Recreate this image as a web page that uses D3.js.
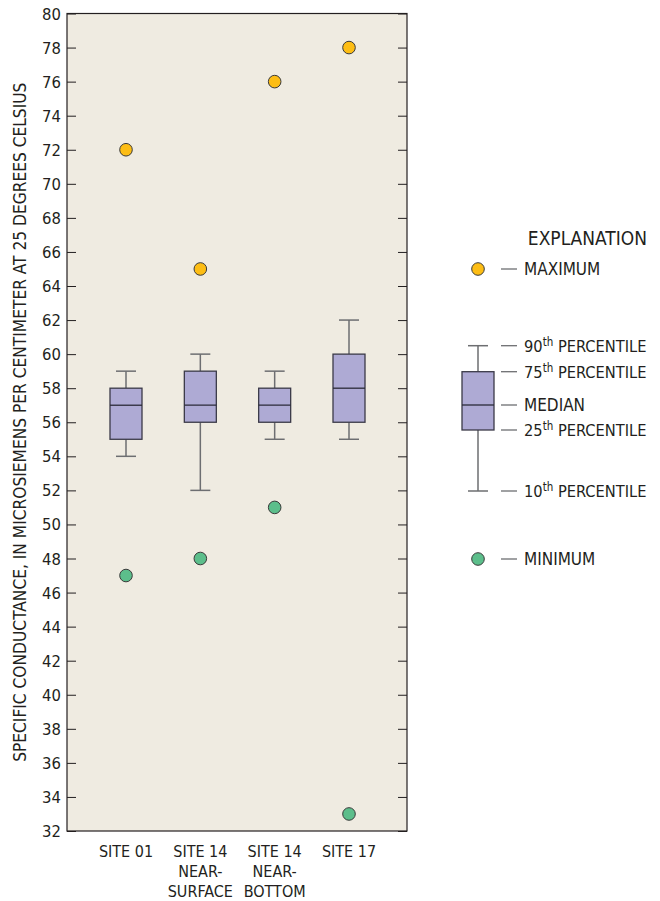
<!DOCTYPE html>
<html><head><meta charset="utf-8">
<script src="https://cdn.jsdelivr.net/npm/d3@7"></script>
<style>
body{margin:0;background:#fff;}
text{font-family:"DejaVu Sans Condensed","Liberation Sans Narrow",sans-serif;fill:#231f20;}
</style></head><body>
<svg id="c" width="660" height="901"></svg>
<script>
const categories = [["SITE 01"],["SITE 14","NEAR-","SURFACE"],["SITE 14","NEAR-","BOTTOM"],["SITE 17"]];
const p10 = [54,52,55,55];
const p25 = [55,56,56,56];
const median = [57,57,57,58];
const p75 = [58,59,58,60];
const p90 = [59,60,59,62];
const maximum = [72,65,76,78];
const minimum = [47,48,51,33];
const yTicks = d3.range(32,81,2);
const legendLabels = ["MAXIMUM","90","75","MEDIAN","25","10","MINIMUM"];

const svg = d3.select("#c");
const L=67, R=407, T=13.5, B=831;
const y = d3.scaleLinear().domain([32,80]).range([B,T]);
const x = d3.scalePoint().domain(d3.range(4)).range([126,349]);

const colBg="#efebe1", colBox="#aeaad4", colMax="#fdbd14", colMin="#5cbe8b", colLine="#231f20", colW="#6d6e71";

svg.append("rect").attr("x",L).attr("y",T).attr("width",R-L).attr("height",B-T).attr("fill",colBg);

// axes
const ax = svg.append("g").attr("transform",`translate(${L},0)`)
  .call(d3.axisRight(y).tickValues(yTicks).tickSize(9).tickFormat(""));
ax.select(".domain").remove();
ax.selectAll("line").attr("stroke",colLine).attr("stroke-width",1);
const ax2 = svg.append("g").attr("transform",`translate(${R},0)`)
  .call(d3.axisLeft(y).tickValues(yTicks).tickSize(9).tickFormat(""));
ax2.select(".domain").remove();
ax2.selectAll("line").attr("stroke",colLine).attr("stroke-width",1);
svg.selectAll(".ylab").data(yTicks).enter().append("text")
  .attr("x",61).attr("y",d=>y(d)+6).attr("text-anchor","end").attr("font-size",16.5).text(d=>d);

svg.append("rect").attr("x",L).attr("y",T).attr("width",R-L).attr("height",B-T)
  .attr("fill","none").attr("stroke",colLine).attr("stroke-width",1.2);

// boxes
const bw=32, cw=20;
function drawBox(g, cx, v10, v25, vm, v75, v90, yy){
  g.append("line").attr("x1",cx).attr("x2",cx).attr("y1",yy(v90)).attr("y2",yy(v75)).attr("stroke",colW).attr("stroke-width",1.5);
  g.append("line").attr("x1",cx).attr("x2",cx).attr("y1",yy(v25)).attr("y2",yy(v10)).attr("stroke",colW).attr("stroke-width",1.5);
  g.append("line").attr("x1",cx-cw/2).attr("x2",cx+cw/2).attr("y1",yy(v90)).attr("y2",yy(v90)).attr("stroke",colW).attr("stroke-width",1.5);
  g.append("line").attr("x1",cx-cw/2).attr("x2",cx+cw/2).attr("y1",yy(v10)).attr("y2",yy(v10)).attr("stroke",colW).attr("stroke-width",1.5);
  g.append("rect").attr("x",cx-bw/2).attr("y",yy(v75)).attr("width",bw).attr("height",yy(v25)-yy(v75))
    .attr("fill",colBox).attr("stroke","#3b3a48").attr("stroke-width",1.3);
  g.append("line").attr("x1",cx-bw/2).attr("x2",cx+bw/2).attr("y1",yy(vm)).attr("y2",yy(vm)).attr("stroke","#2b2a38").attr("stroke-width",1.3);
}
const gb = svg.append("g");
categories.forEach((c,i)=>{
  drawBox(gb, x(i), p10[i], p25[i], median[i], p75[i], p90[i], y);
});
gb.selectAll(".mx").data(maximum).enter().append("circle")
  .attr("cx",(d,i)=>x(i)).attr("cy",d=>y(d)).attr("r",6.3).attr("fill",colMax).attr("stroke","#3a3a3a").attr("stroke-width",1);
gb.selectAll(".mn").data(minimum).enter().append("circle")
  .attr("cx",(d,i)=>x(i)).attr("cy",d=>y(d)).attr("r",6.3).attr("fill",colMin).attr("stroke","#3a3a3a").attr("stroke-width",1);

// category labels
categories.forEach((c,i)=>{
  const t = svg.append("text").attr("text-anchor","middle").attr("font-size",16);
  c.forEach((s,j)=>t.append("tspan").attr("x",x(i)).attr("y",857+j*20).text(s));
});

// y title
svg.append("text").attr("transform",`translate(26,${(T+B)/2}) rotate(-90)`).attr("text-anchor","middle")
  .attr("font-size",17.2).text("SPECIFIC CONDUCTANCE, IN MICROSIEMENS PER CENTIMETER AT 25 DEGREES CELSIUS");

// legend
const lg = svg.append("g");
lg.append("text").attr("x",647).attr("y",245).attr("text-anchor","end").attr("font-size",19).text("EXPLANATION");
const ly = d3.scaleLinear().domain([0,1]).range([491,345.7]);
const lv = {p10:0, p25:(491-430)/(491-345.7), pm:(491-405)/(491-345.7), p75:(491-371.7)/(491-345.7), p90:1};
drawBox(lg, 478, lv.p10, lv.p25, lv.pm, lv.p75, lv.p90, ly);
lg.append("circle").attr("cx",478).attr("cy",269).attr("r",6.3).attr("fill",colMax).attr("stroke","#3a3a3a");
lg.append("circle").attr("cx",478).attr("cy",559).attr("r",6.3).attr("fill",colMin).attr("stroke","#3a3a3a");
const items = [
  {y:269, lab:legendLabels[0], sup:false},
  {y:ly(lv.p90), lab:legendLabels[1], sup:true},
  {y:ly(lv.p75), lab:legendLabels[2], sup:true},
  {y:ly(lv.pm), lab:legendLabels[3], sup:false},
  {y:ly(lv.p25), lab:legendLabels[4], sup:true},
  {y:ly(lv.p10), lab:legendLabels[5], sup:true},
  {y:559, lab:legendLabels[6], sup:false}
];
items.forEach(it=>{
  lg.append("line").attr("x1",501).attr("x2",517).attr("y1",it.y).attr("y2",it.y).attr("stroke",colW).attr("stroke-width",1.3);
  const t = lg.append("text").attr("x",524).attr("y",it.y+6).attr("font-size",16.3);
  if(it.sup){
    t.append("tspan").text(it.lab);
    t.append("tspan").attr("dy",-6).attr("font-size",11.5).text("th");
    t.append("tspan").attr("dy",6).text(" PERCENTILE");
  } else t.append("tspan").attr("font-size",17).text(it.lab);
});
</script></body></html>
